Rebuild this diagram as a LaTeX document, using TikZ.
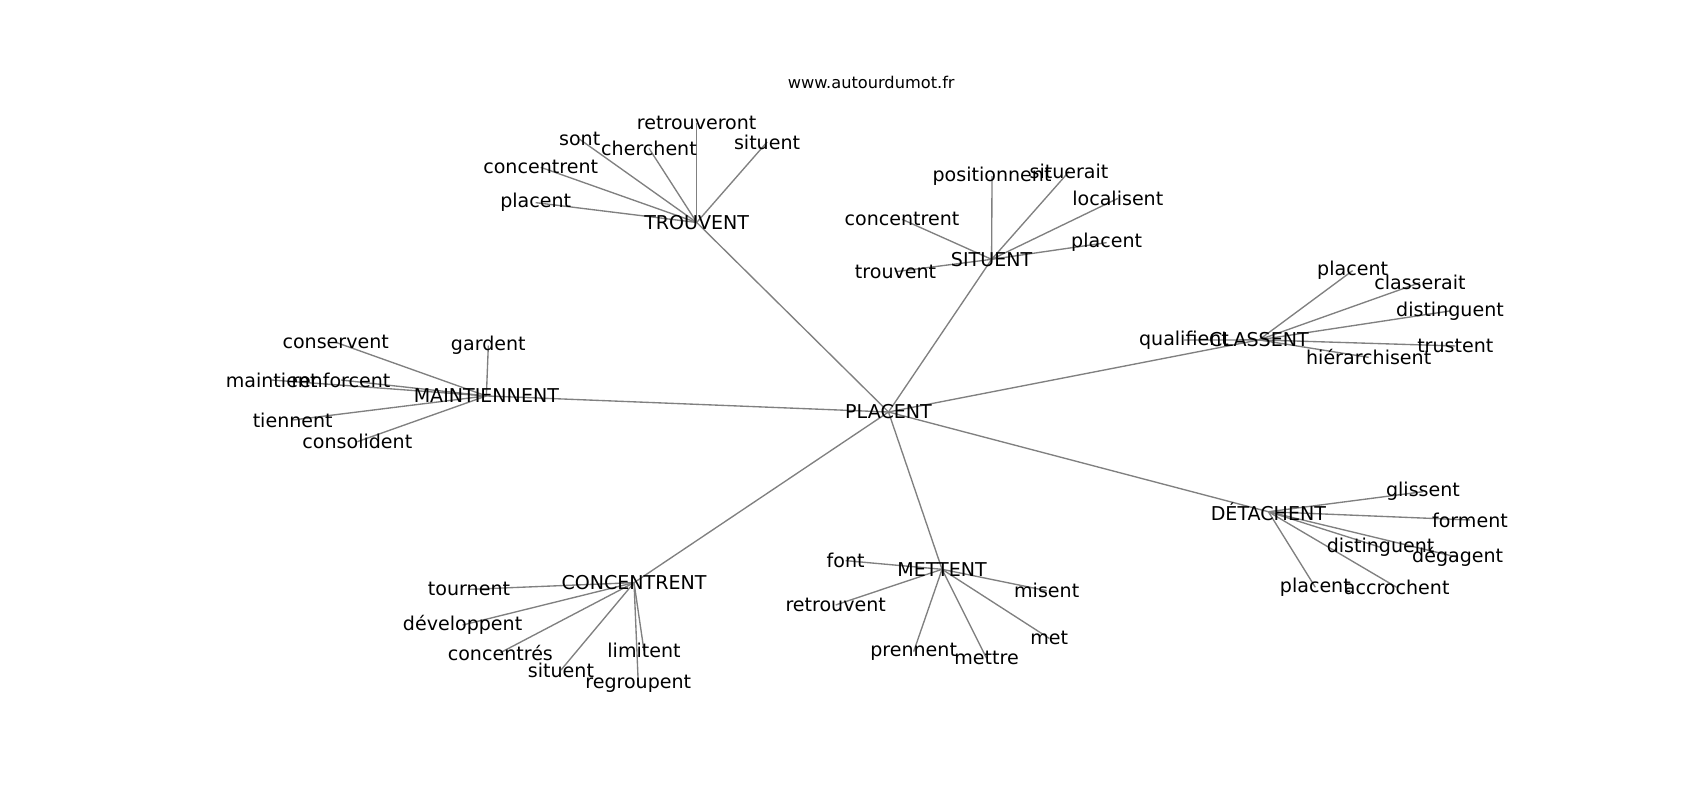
\documentclass[tikz,border=0pt]{standalone}
\usepackage{fontspec}
\setmainfont{DejaVu Sans}
\usetikzlibrary{backgrounds}

\tikzset{
  word/.style={inner sep=0pt, font=\fontsize{12.7pt}{14pt}\selectfont},
  site/.style={inner sep=0pt, font=\fontsize{10.8pt}{12pt}\selectfont},
  edge/.style={draw=gray, line width=0.9pt}
}

\begin{document}
\begin{tikzpicture}[x=0.01in, y=-0.01in]
    \useasboundingbox (0,0) rectangle (1568,738);

    \node[site] (site) at (803.6,76.3) {www.autourdumot.fr};

    \node[word] (plc) at (819.5,380) {PLACENT};

    \node[word] (trv) at (642.6,205.2) {TROUVENT};
    \node[word] (trv-retrouveront) at (642.6,113.7) {retrouveront};
    \node[word] (trv-sont) at (534.7,128.5) {sont};
    \node[word] (trv-cherchent) at (598.6,136.8) {cherchent};
    \node[word] (trv-situent) at (707.5,131) {situent};
    \node[word] (trv-concentrent) at (498.7,154.3) {concentrent};
    \node[word] (trv-placent) at (494.1,186.9) {placent};

    \node[word] (sit) at (914.6,239.2) {SITUENT};
    \node[word] (sit-positionnent) at (915,162.5) {positionnent};
    \node[word] (sit-situerait) at (986,158.3) {situerait};
    \node[word] (sit-localisent) at (1031,183) {localisent};
    \node[word] (sit-concentrent) at (832,202.3) {concentrent};
    \node[word] (sit-placent) at (1020.7,223.8) {placent};
    \node[word] (sit-trouvent) at (826,250.6) {trouvent};

    \node[word] (cls) at (1161.2,313.5) {CLASSENT};
    \node[word] (cls-qualifient) at (1092,313.6) {qualifient};
    \node[word] (cls-placent) at (1247.6,249.6) {placent};
    \node[word] (cls-classerait) at (1309.7,260.7) {classerait};
    \node[word] (cls-distinguent) at (1337.4,286.8) {distinguent};
    \node[word] (cls-trustent) at (1342.3,319.1) {trustent};
    \node[word] (cls-hierarchisent) at (1262.4,329.6) {hiérarchisent};

    \node[word] (mtn) at (448.6,365.2) {MAINTIENNENT};
    \node[word] (mtn-conservent) at (309.6,315.7) {conservent};
    \node[word] (mtn-gardent) at (450.4,318.8) {gardent};
    \node[word] (mtn-maintient) at (250.6,350.5) {maintient};
    \node[word] (mtn-renforcent) at (314.5,350.5) {renforcent};
    \node[word] (mtn-tiennent) at (270,387.4) {tiennent};
    \node[word] (mtn-consolident) at (329.6,407.4) {consolident};

    \node[word] (dtc) at (1169.9,472) {DÉTACHENT};
    \node[word] (dtc-glissent) at (1312.5,453.5) {glissent};
    \node[word] (dtc-forment) at (1355.8,479.6) {forment};
    \node[word] (dtc-distinguent) at (1273.4,504.8) {distinguent};
    \node[word] (dtc-degagent) at (1344.5,514) {dégagent};
    \node[word] (dtc-placent) at (1213.2,541.7) {placent};
    \node[word] (dtc-accrochent) at (1288.2,541.7) {accrochent};

    \node[word] (cct) at (584.8,537.4) {CONCENTRENT};
    \node[word] (cct-tournent) at (432.6,543.6) {tournent};
    \node[word] (cct-developpent) at (426.7,576.5) {développent};
    \node[word] (cct-concentres) at (461.5,602) {concentrés};
    \node[word] (cct-situent) at (517.4,618) {situent};
    \node[word] (cct-limitent) at (594,600.2) {limitent};
    \node[word] (cct-regroupent) at (588.7,630.3) {regroupent};

    \node[word] (mtt) at (868.9,525.1) {METTENT};
    \node[word] (mtt-font) at (780,517.1) {font};
    \node[word] (mtt-retrouvent) at (770.8,558) {retrouvent};
    \node[word] (mtt-misent) at (965.4,544.8) {misent};
    \node[word] (mtt-met) at (967.8,588.8) {met};
    \node[word] (mtt-prennent) at (842.7,601) {prennent};
    \node[word] (mtt-mettre) at (910,607.2) {mettre};

    \begin{scope}[on background layer]
        \foreach \hub in {trv,sit,cls,mtn,dtc,cct,mtt}
            \draw[edge] (plc.center) -- (\hub.center);

        \foreach \leaf in {retrouveront,sont,cherchent,situent,concentrent,placent}
            \draw[edge] (trv.center) -- (trv-\leaf.center);
        \foreach \leaf in {positionnent,situerait,localisent,concentrent,placent,trouvent}
            \draw[edge] (sit.center) -- (sit-\leaf.center);
        \foreach \leaf in {qualifient,placent,classerait,distinguent,trustent,hierarchisent}
            \draw[edge] (cls.center) -- (cls-\leaf.center);
        \foreach \leaf in {conservent,gardent,maintient,renforcent,tiennent,consolident}
            \draw[edge] (mtn.center) -- (mtn-\leaf.center);
        \foreach \leaf in {glissent,forment,distinguent,degagent,placent,accrochent}
            \draw[edge] (dtc.center) -- (dtc-\leaf.center);
        \foreach \leaf in {tournent,developpent,concentres,situent,limitent,regroupent}
            \draw[edge] (cct.center) -- (cct-\leaf.center);
        \foreach \leaf in {font,retrouvent,misent,met,prennent,mettre}
            \draw[edge] (mtt.center) -- (mtt-\leaf.center);
    \end{scope}
\end{tikzpicture}
\end{document}
